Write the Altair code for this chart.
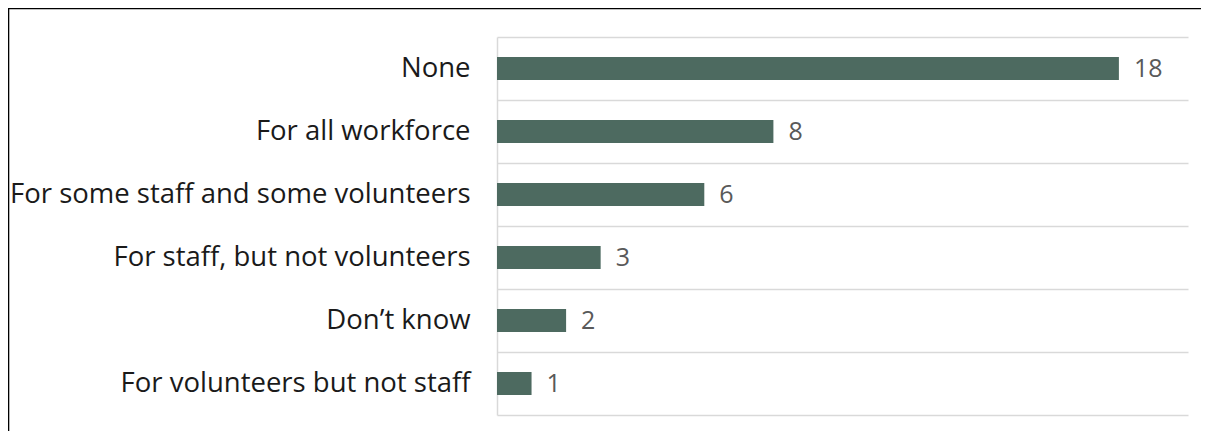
import altair as alt
import pandas as pd

categories = [
    "None",
    "For all workforce",
    "For some staff and some volunteers",
    "For staff, but not volunteers",
    "Don\u2019t know",
    "For volunteers but not staff",
]
values = [18, 8, 6, 3, 2, 1]

df = pd.DataFrame({"category": categories, "value": values})

W, H = 691, 378
PAD = {"left": 489, "top": 29, "right": 13, "bottom": 16}
FONT = "Open Sans"

y_enc = alt.Y(
    "category:N",
    sort=categories,
    title=None,
    scale=alt.Scale(paddingInner=0.0, paddingOuter=0.0),
    axis=alt.Axis(
        grid=True,
        gridColor="#d9d9d9",
        gridWidth=1.5,
        tickBand="extent",
        ticks=False,
        domain=True,
        domainColor="#d9d9d9",
        domainWidth=1.5,
        labelFont=FONT,
        labelFontSize=27.5,
        labelColor="#1a1a1a",
        labelPadding=27,
        labelLimit=600,
    ),
)
x_enc = alt.X(
    "value:Q",
    scale=alt.Scale(domain=[0, 20]),
    axis=None,
)

bars = alt.Chart(df).mark_bar(size=23, color="#4d6a60").encode(y=y_enc, x=x_enc)

labels = alt.Chart(df).mark_text(
    align="left", baseline="middle", dx=15, font=FONT, fontSize=25, color="#595959"
).encode(y=alt.Y("category:N", sort=categories), x="value:Q", text="value:Q")

one = alt.Data(values=[{"a": 1}])
top_border = alt.Chart(one).mark_rule(color="#000000", strokeWidth=1.6).encode(
    x=alt.value(-489), x2=alt.value(W + 40), y=alt.value(-28.5)
)
left_border = alt.Chart(one).mark_rule(color="#000000", strokeWidth=1.6).encode(
    x=alt.value(-488.5), y=alt.value(-29), y2=alt.value(H + 40)
)

chart = (
    alt.layer(bars, labels, top_border, left_border)
    .properties(
        width=W,
        height=H,
        padding=PAD,
        autosize=alt.AutoSizeParams(type="none"),
        background="white",
    )
    .configure_view(stroke=None)
)

chart.save("out.html", embed_options={"renderer": "svg", "actions": False})
